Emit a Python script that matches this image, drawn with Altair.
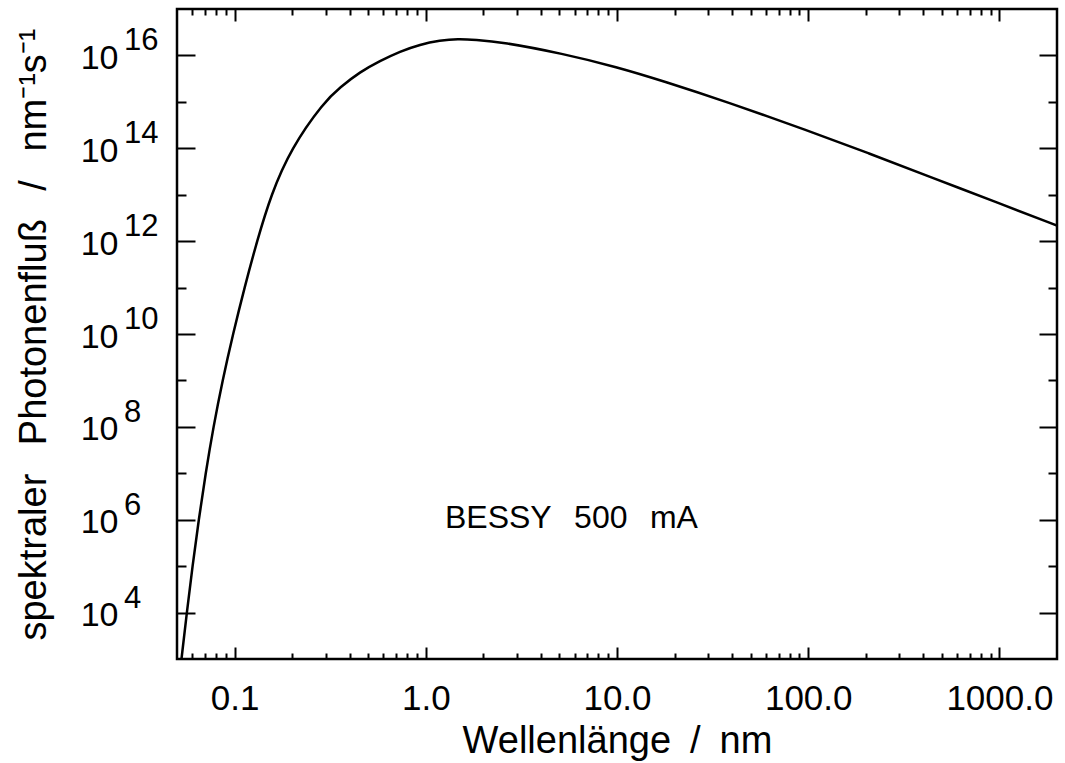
import altair as alt
import pandas as pd

# ---- data ----
wavelength_nm = [0.05278, 0.05627, 0.06027, 0.06495, 0.07058, 0.07751, 0.0865, 0.09815,
                 0.1127, 0.1310, 0.1551, 0.1973, 0.2936, 0.3558, 0.4529, 0.5763, 0.7333,
                 0.933, 1.187, 1.474, 1.81, 2.49, 5.2, 10.0, 17.8, 37.2, 100.0, 208.0,
                 433.0, 1000.0, 2000.0]
log10_flux = [3.0, 4.0, 5.0, 6.0, 7.0, 8.0, 9.0, 10.0,
              11.0, 12.0, 13.0, 14.0, 15.0, 15.311, 15.645, 15.882, 16.086,
              16.237, 16.323, 16.359, 16.338, 16.29, 16.04, 15.75, 15.437, 15.005, 14.38,
              13.89, 13.386, 12.812, 12.336]

x_domain = [0.05, 2000.0]
y_domain = [1e3, 1e17]

x_major = [0.1, 1.0, 10.0, 100.0, 1000.0]
x_ticks = [0.06, 0.07, 0.08, 0.09,
           0.1, 0.2, 0.3, 0.4, 0.5, 0.6, 0.7, 0.8, 0.9,
           1, 2, 3, 4, 5, 6, 7, 8, 9,
           10, 20, 30, 40, 50, 60, 70, 80, 90,
           100, 200, 300, 400, 500, 600, 700, 800, 900,
           1000]
y_exponents_labeled = [4, 6, 8, 10, 12, 14, 16]
y_exponents_ticks = [4, 5, 6, 7, 8, 9, 10, 11, 12, 13, 14, 15, 16]

annotation_text = ["BESSY\u2002\u2009500\u2002\u2009mA"]
annotation_x = [1.26]
annotation_y = [6.6e5]

x_title = "Wellenlänge\u2002/\u2002nm"
y_title = "spektraler\u2002\u2005Photonenfluß\u2002\u2005/\u2002\u2005nm⁻¹s⁻¹"

# ---- tables ----
df = pd.DataFrame({"wavelength": wavelength_nm,
                   "flux": [10.0 ** v for v in log10_flux]})
exp_df = pd.DataFrame({"exp": [str(e) for e in y_exponents_labeled],
                       "val": [10.0 ** e for e in y_exponents_labeled]})
ann_df = pd.DataFrame({"t": annotation_text, "x": annotation_x, "y": annotation_y})

y_label_values = [10.0 ** e for e in y_exponents_labeled]
y_tick_values = [10.0 ** e for e in y_exponents_ticks]

W, H = 880, 650
FONT = "Liberation Sans"

xs = alt.Scale(type="log", domain=x_domain, nice=False)
ys = alt.Scale(type="log", domain=y_domain, nice=False)

decade_test = "abs(log(datum.value)/LN10 - round(log(datum.value)/LN10)) < 0.001"
even_test = "round(log(datum.value)/LN10) % 2 == 0"

x_tick_size = {"condition": {"test": decade_test, "value": 12}, "value": 6}
y_tick_size = {"condition": {"test": even_test, "value": 18}, "value": 9}

base = alt.Chart(df)

# main curve with labelled axes
line = base.mark_line(color="black", strokeWidth=2.5, interpolate="basis", clip=True).encode(
    x=alt.X("wavelength:Q", scale=xs,
            axis=alt.Axis(orient="bottom", values=x_major,
                          labelExpr="format(datum.value, '.1f')",
                          ticks=False, tickSize=0, domain=False, grid=False,
                          labelPadding=22, labelFontSize=35,
                          title=x_title, titleY=93, titleBaseline="alphabetic",
                          titleFontSize=38)),
    y=alt.Y("flux:Q", scale=ys,
            axis=alt.Axis(orient="left", values=y_label_values, labelExpr="'10'",
                          ticks=False, tickSize=0, domain=False, grid=False,
                          labelPadding=59, labelFontSize=34, labelOffset=3,
                          labelBaseline="middle",
                          title=y_title, titleX=-132, titleY=H / 2, titleAngle=270,
                          titleAlign="center", titleBaseline="alphabetic",
                          titleFontSize=38)),
)

# inward ticks at bottom and left edges
ticks_bl = base.mark_line(opacity=0).encode(
    x=alt.X("wavelength:Q", scale=xs,
            axis=alt.Axis(orient="top", offset=-H, values=x_ticks, labels=False,
                          domain=False, grid=False, tickSize=x_tick_size,
                          tickWidth=2, tickColor="black", title=None)),
    y=alt.Y("flux:Q", scale=ys,
            axis=alt.Axis(orient="right", offset=-W, values=y_tick_values, labels=False,
                          domain=False, grid=False, tickSize=y_tick_size,
                          tickWidth=2, tickColor="black", title=None)),
)

# inward ticks at top and right edges
ticks_tr = base.mark_line(opacity=0).encode(
    x=alt.X("wavelength:Q", scale=xs,
            axis=alt.Axis(orient="bottom", offset=-H, values=x_ticks, labels=False,
                          domain=False, grid=False, tickSize=x_tick_size,
                          tickWidth=2, tickColor="black", title=None)),
    y=alt.Y("flux:Q", scale=ys,
            axis=alt.Axis(orient="left", offset=-W, values=y_tick_values, labels=False,
                          domain=False, grid=False, tickSize=y_tick_size,
                          tickWidth=2, tickColor="black", title=None)),
)

# exponents of the y tick labels
exps = alt.Chart(exp_df).mark_text(align="left", baseline="alphabetic", dy=-5,
                                   fontSize=31, font=FONT, color="black").encode(
    x=alt.value(-53),
    y=alt.Y("val:Q", scale=ys, axis=None),
    text="exp:N",
)

ann = alt.Chart(ann_df).mark_text(align="left", baseline="alphabetic",
                                  fontSize=32, font=FONT, color="black").encode(
    x=alt.X("x:Q", scale=xs, axis=None),
    y=alt.Y("y:Q", scale=ys, axis=None),
    text="t:N",
)

chart = alt.layer(line, ticks_bl, ticks_tr, exps, ann).resolve_axis(
    x="independent", y="independent"
).properties(
    width=W, height=H,
    autosize=alt.AutoSizeParams(type="none"),
    padding={"left": 177, "top": 9, "right": 8, "bottom": 104},
    background="white",
).configure_view(
    stroke="black", strokeWidth=2.5
).configure_axis(
    labelFont=FONT, titleFont=FONT, labelColor="black", titleColor="black",
    titleFontWeight="normal"
)

chart.save("out.html", embed_options={"renderer": "svg", "actions": False})
